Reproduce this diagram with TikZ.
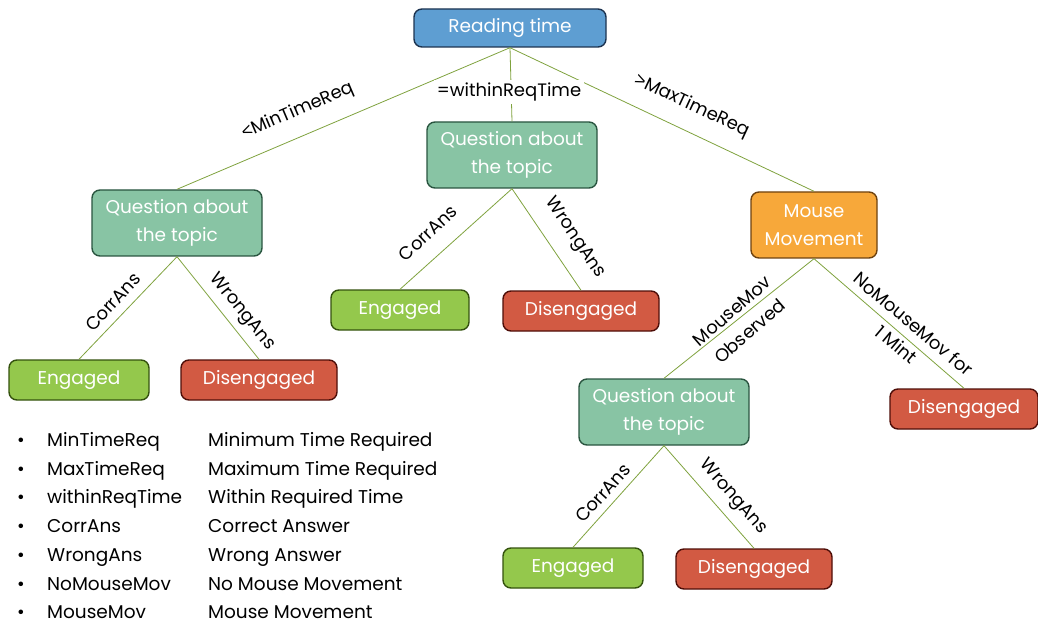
\documentclass[tikz,border=0pt]{standalone}
\usepackage{fontspec}
\setmainfont{Poppins}
\newfontfamily\symf{Liberation Sans}
\definecolor{blueF}{HTML}{5E9ED2}
\definecolor{blueD}{HTML}{1C3350}
\definecolor{tealF}{HTML}{88C4A4}
\definecolor{tealD}{HTML}{2A5540}
\definecolor{grnF}{HTML}{94C84C}
\definecolor{grnD}{HTML}{34520E}
\definecolor{redF}{HTML}{D25A43}
\definecolor{redD}{HTML}{4E0E08}
\definecolor{orgF}{HTML}{F7A83A}
\definecolor{orgD}{HTML}{6E4210}
\definecolor{edgeC}{HTML}{7FA23E}
\tikzset{
  box/.style={rounded corners=8pt, line width=1.4pt, text=white, align=center, inner sep=2pt, font=\fontsize{18.5}{28}\selectfont},
  rt/.style={box, fill=blueF, draw=blueD, minimum width=192pt, minimum height=38pt},
  qbox/.style={box, fill=tealF, draw=tealD, minimum width=170pt, minimum height=66pt},
  mbox/.style={box, fill=orgF, draw=orgD, minimum width=126pt, minimum height=66pt},
  eng/.style={box, fill=grnF, draw=grnD, minimum width=140pt, minimum height=40pt},
  dis/.style={box, fill=redF, draw=redD, minimum width=156pt, minimum height=40pt},
  conn/.style={draw=edgeC, line width=0.8pt},
  elab/.style={font=\fontsize{18}{27}\selectfont, text=black, inner sep=1pt, align=center},
  leg/.style={font=\fontsize{18.5}{22}\selectfont, anchor=west, inner sep=0pt, text height=13pt, text depth=4pt}
}
\begin{document}
\begin{tikzpicture}[x=1pt,y=-1pt]
\useasboundingbox (0,0) rectangle (1038,628);
% nodes
\node[rt] (rt) at (510,28) {Reading time};
\node[qbox] (q1) at (177,223) {Question about\\the topic};
\node[qbox] (q2) at (512,155) {Question about\\the topic};
\node[mbox] (mm) at (814,225) {Mouse\\Movement};
\node[eng] (e1) at (79,380) {Engaged};
\node[dis] (d1) at (259,380) {Disengaged};
\node[eng, minimum width=138pt] (e2) at (400,310) {Engaged};
\node[dis] (d2) at (581,311) {Disengaged};
\node[qbox] (q3) at (664,412) {Question about\\the topic};
\node[dis, minimum width=148pt] (d3) at (964,409) {Disengaged};
\node[eng] (e3) at (573,568) {Engaged};
\node[dis] (d4) at (754,569) {Disengaged};
% connectors
\draw[conn] (rt.south) -- (q1.north);
\draw[conn] (rt.south) -- (q2.north);
\draw[conn] (rt.south) -- (mm.north);
\draw[conn] (q1.south) -- (e1.north);
\draw[conn] (q1.south) -- (d1.north);
\draw[conn] (q2.south) -- (e2.north);
\draw[conn] (q2.south) -- (d2.north);
\draw[conn] (mm.south) -- (q3.north);
\draw[conn] (mm.south) -- (d3.north);
\draw[conn] (q3.south) -- (e3.north);
\draw[conn] (q3.south) -- (d4.north);
% edge labels
\node[elab, rotate=23] (l1) at (298,111) {{\symf <}MinTimeReq};
\node[elab, fill=white, inner sep=3pt] (l2) at (509,92) {=withinReqTime};
\node[elab, rotate=-25] (l3) at (692,106) {{\symf >}MaxTimeReq};
\node[elab, rotate=47] (l4) at (113,302) {CorrAns};
\node[elab, rotate=-51] (l5) at (242,312) {WrongAns};
\node[elab, rotate=43] (l6) at (428,233) {CorrAns};
\node[elab, rotate=-56] (l7) at (575,238) {WrongAns};
\node[elab, rotate=41] (l8) at (741,321) {MouseMov\\Observed};
\node[elab, rotate=-40] (l9) at (905,334) {NoMouseMov for\\1 Mint};
\node[elab, rotate=48] (l10) at (603,493) {CorrAns};
\node[elab, rotate=-48.5] (l11) at (733,497) {WrongAns};
% legend
\foreach \i/\a/\b in {0/MinTimeReq/Minimum Time Required, 1/MaxTimeReq/Maximum Time Required, 2/withinReqTime/Within Required Time, 3/CorrAns/Correct Answer, 4/WrongAns/Wrong Answer, 5/NoMouseMov/No Mouse Movement, 6/MouseMov/Mouse Movement}{
  \node[leg] (b\i) at (17,442+28.7*\i) {•};
  \node[leg] (k\i) at (47,442+28.7*\i) {\a};
  \node[leg] (v\i) at (208,442+28.7*\i) {\b};
}
\end{tikzpicture}
\end{document}
